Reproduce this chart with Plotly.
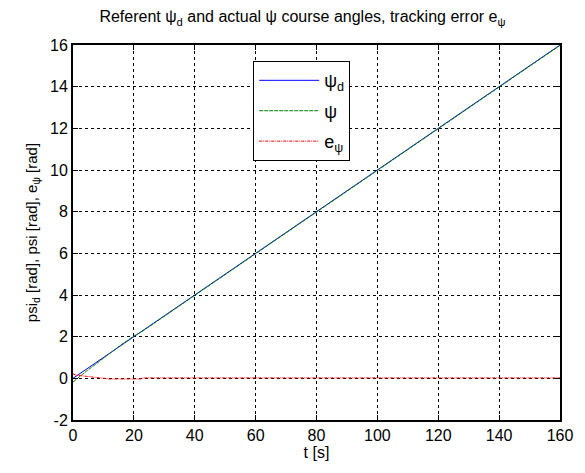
import plotly.graph_objects as go

# Reference heading psi_d [rad]
t_ref = [0, 20, 40, 60, 80, 100, 120, 140, 160]
psi_d = [0.0, 2.0, 4.0, 6.0, 8.0, 10.0, 12.0, 14.0, 16.0]

# Actual heading psi [rad]
t_act = [0, 2, 4, 6, 8, 10, 12, 16, 20, 23, 40, 60, 80, 100, 120, 140, 160]
psi = [-0.18, 0.08, 0.3, 0.52, 0.75, 0.97, 1.2, 1.63, 2.03, 2.28, 3.98, 5.98, 7.98, 9.98, 11.98, 13.98, 15.98]

# Tracking error e_psi [rad]
t_err = [0, 0.5, 1, 3, 5, 6, 7, 9, 11, 12, 22, 23, 160]
e_psi = [0.22, 0.2, 0.15, 0.12, 0.1, 0.08, 0.05, 0.02, 0.0, -0.03, -0.03, 0.02, 0.02]

x_ticks = [0, 20, 40, 60, 80, 100, 120, 140, 160]
y_ticks = [-2, 0, 2, 4, 6, 8, 10, 12, 14, 16]
y_tick_text = ["-2", "0", "2", "4", "6", "8", "10", "12", "14", "16"]

FONT = "Liberation Sans, Arial, sans-serif"

fig = go.Figure()
fig.add_trace(go.Scatter(x=t_ref, y=psi_d, mode="lines", name="ψ<sub>d</sub>",
                         legendgroup="a",
                         line=dict(color="#0000ff", width=1)))
fig.add_trace(go.Scatter(x=t_act, y=psi, mode="lines", name="ψ",
                         legendgroup="b",
                         line=dict(color="#008000", width=1, dash="4px,1px")))
fig.add_trace(go.Scatter(x=t_err, y=e_psi, mode="lines", name="e<sub>ψ</sub>",
                         legendgroup="c",
                         line=dict(color="#ff0000", width=1, dash="3px,1px,1px,1px")))

axis_common = dict(
    showline=True, linecolor="black", linewidth=2, mirror="ticks",
    ticks="inside", ticklen=5, tickcolor="black", tickwidth=1,
    showgrid=True, gridcolor="black", gridwidth=1, griddash="dot",
    zeroline=False, tickfont=dict(size=16, color="black", family=FONT),
)

fig.update_layout(
    width=585, height=473,
    margin=dict(l=73, r=20, t=45, b=53),
    paper_bgcolor="white", plot_bgcolor="white",
    font=dict(family=FONT, color="black", size=16),
    title=dict(text="Referent ψ<sub>d</sub> and actual ψ course angles, tracking error e<sub>ψ</sub>",
               x=0.517, xanchor="center", y=0.965, yanchor="middle",
               font=dict(size=16, color="black", family=FONT)),
    xaxis=dict(range=[0, 160], tickvals=x_ticks,
               title=dict(text="t [s]", font=dict(size=16), standoff=4),
               **axis_common),
    yaxis=dict(range=[-2, 16], tickvals=y_ticks, ticktext=y_tick_text,
               title=dict(text="psi<sub>d</sub> [rad], psi [rad], e<sub>ψ</sub> [rad]",
                          font=dict(size=15), standoff=9),
               **axis_common),
    legend=dict(x=0.37, y=0.957, xanchor="left", yanchor="top",
                bgcolor="white", bordercolor="black", borderwidth=1,
                font=dict(size=18, color="black", family=FONT),
                tracegroupgap=4, itemwidth=60),
    showlegend=True,
)

fig.write_html("out.html")
